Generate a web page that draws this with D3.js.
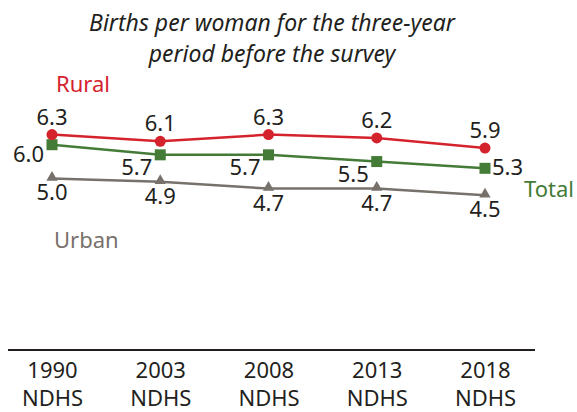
<!DOCTYPE html>
<html>
<head>
<meta charset="utf-8">
<script src="https://cdn.jsdelivr.net/npm/d3@7"></script>
<style>
  body { margin: 0; background: #fff; }
  text { font-family: "Noto Sans", "Open Sans", sans-serif; fill: #231f20; }
</style>
</head>
<body>
<svg width="577" height="412"></svg>
<script>
// chart data
var years = ["1990", "2003", "2008", "2013", "2018"];
var survey = "NDHS";
var rural = [6.3, 6.1, 6.3, 6.2, 5.9];
var total = [6.0, 5.7, 5.7, 5.5, 5.3];
var urban = [5.0, 4.9, 4.7, 4.7, 4.5];
var subtitle = ["Births per woman for the three-year", "period before the survey"];

var svg = d3.select("svg");

var x = d3.scalePoint().domain(years).range([52, 485]);
var y = d3.scaleLinear().domain([0, 7]).range([347, 111]);

var colors = { rural: "#d5232e", total: "#437b37", urban: "#77716b" };

// subtitle
svg.append("g").selectAll("text")
    .data(subtitle)
    .enter().append("text")
    .attr("x", 272)
    .attr("y", function(d, i) { return 31 + i * 31; })
    .attr("text-anchor", "middle")
    .attr("font-style", "italic")
    .attr("font-size", 23)
    .text(function(d) { return d; });

// x axis
var axis = svg.append("g")
    .attr("transform", "translate(0,350)")
    .call(d3.axisBottom(x).tickSize(0).tickPadding(0).tickFormat(""));
axis.select(".domain")
    .attr("d", "M8,0H535")
    .attr("stroke", "#231f20")
    .attr("stroke-width", 2);
axis.selectAll(".tick text").remove();
axis.selectAll(".tick").append("text")
    .attr("text-anchor", "middle")
    .attr("font-size", 22)
    .attr("y", 28)
    .text(function(d) { return d; });
axis.selectAll(".tick").append("text")
    .attr("text-anchor", "middle")
    .attr("font-size", 22)
    .attr("y", 56)
    .text(survey);

function drawLine(values, color, width) {
  var line = d3.line()
      .x(function(d, i) { return x(years[i]); })
      .y(function(d) { return y(d); });
  svg.append("path")
      .datum(values)
      .attr("fill", "none")
      .attr("stroke", color)
      .attr("stroke-width", width)
      .attr("d", line);
}

drawLine(urban, colors.urban, 2.5);
drawLine(total, colors.total, 2.5);
drawLine(rural, colors.rural, 2.5);

// markers
svg.append("g").selectAll("path")
    .data(urban)
    .enter().append("path")
    .attr("d", d3.symbol().type(d3.symbolTriangle).size(55))
    .attr("transform", function(d, i) { return "translate(" + x(years[i]) + "," + (y(d) - 1) + ")"; })
    .attr("fill", colors.urban);

svg.append("g").selectAll("rect")
    .data(total)
    .enter().append("rect")
    .attr("x", function(d, i) { return x(years[i]) - 5.5; })
    .attr("y", function(d) { return y(d) - 5.5; })
    .attr("width", 11)
    .attr("height", 11)
    .attr("fill", colors.total);

svg.append("g").selectAll("circle")
    .data(rural)
    .enter().append("circle")
    .attr("cx", function(d, i) { return x(years[i]); })
    .attr("cy", function(d) { return y(d); })
    .attr("r", 5.5)
    .attr("fill", colors.rural);

// value labels
var fmt = d3.format(".1f");

svg.append("g").selectAll("text")
    .data(rural)
    .enter().append("text")
    .attr("x", function(d, i) { return x(years[i]); })
    .attr("y", function(d) { return y(d) - 10; })
    .attr("text-anchor", "middle")
    .attr("font-size", 22)
    .text(fmt);

svg.append("g").selectAll("text")
    .data(total)
    .enter().append("text")
    .attr("x", function(d, i) { return i < total.length - 1 ? x(years[i]) - 8 : x(years[i]) + 7; })
    .attr("y", function(d, i) { return i === 0 ? y(d) + 17 : (i < total.length - 1 ? y(d) + 20 : y(d) + 7); })
    .attr("text-anchor", function(d, i) { return i < total.length - 1 ? "end" : "start"; })
    .attr("font-size", 22)
    .text(fmt);

svg.append("g").selectAll("text")
    .data(urban)
    .enter().append("text")
    .attr("x", function(d, i) { return x(years[i]); })
    .attr("y", function(d) { return y(d) + 22; })
    .attr("text-anchor", "middle")
    .attr("font-size", 22)
    .text(fmt);

// series names
svg.append("text").attr("x", 56).attr("y", 92).attr("font-size", 22)
    .style("fill", colors.rural).text("Rural");
svg.append("text").attr("x", 524).attr("y", 197).attr("font-size", 22)
    .style("fill", colors.total).text("Total");
svg.append("text").attr("x", 54).attr("y", 248).attr("font-size", 22)
    .style("fill", colors.urban).text("Urban");
</script>
</body>
</html>
